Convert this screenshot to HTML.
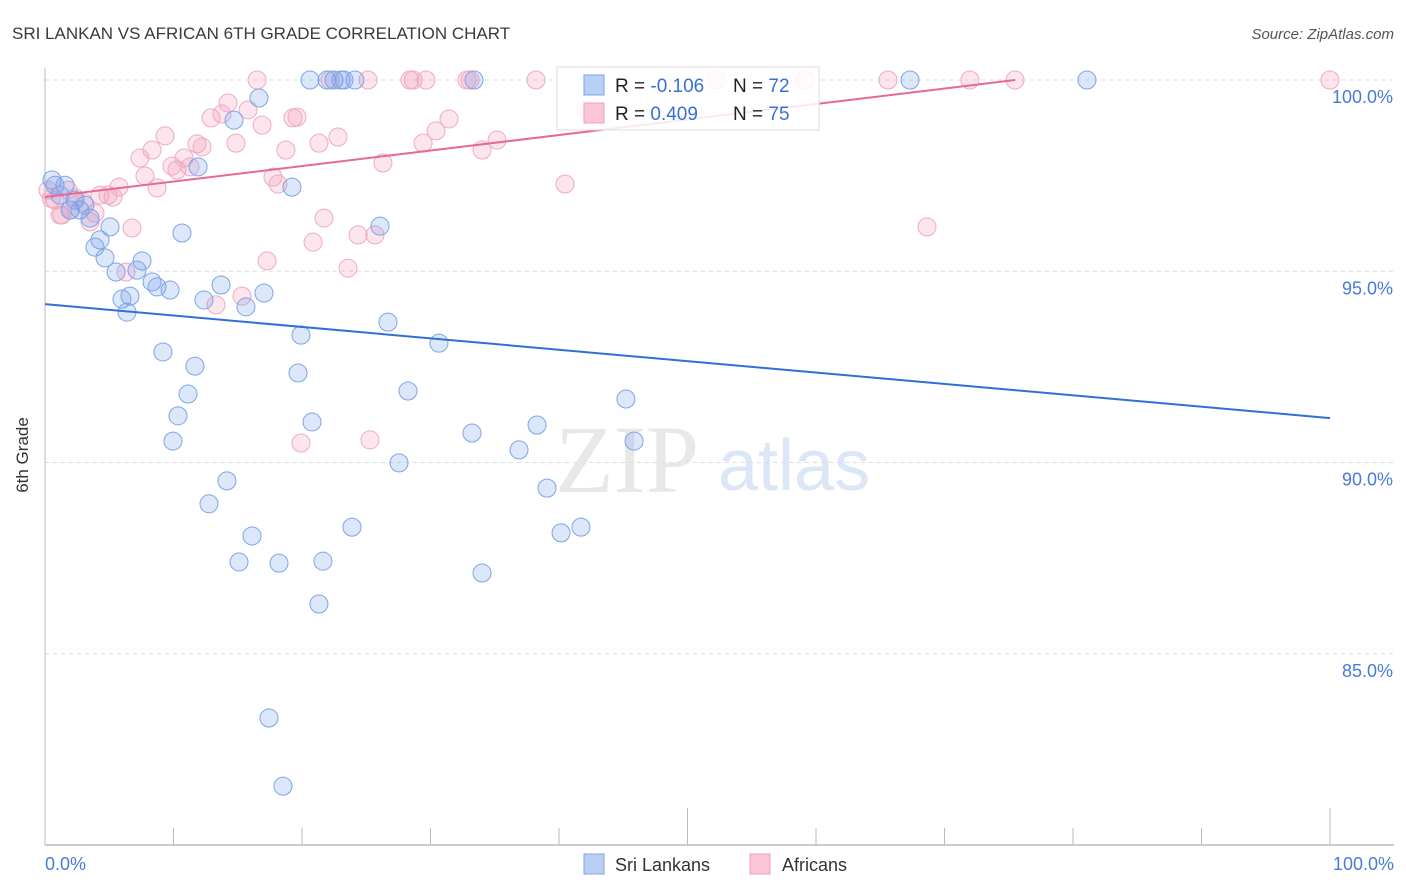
<!DOCTYPE html>
<html><head><meta charset="utf-8"><style>
body{margin:0;background:#fff;width:1406px;height:892px;overflow:hidden;font-family:"Liberation Sans",sans-serif}
svg{position:absolute;left:0;top:0}
</style></head><body>
<svg id="chart" width="1406" height="892">
<text x="12" y="39" font-size="17" fill="#3a3a3a">SRI LANKAN VS AFRICAN 6TH GRADE CORRELATION CHART</text>
<text x="1394" y="39" font-size="15" fill="#555" font-style="italic" text-anchor="end">Source: ZipAtlas.com</text>
<text x="28" y="455" font-size="17" fill="#333" text-anchor="middle" transform="rotate(-90 28 455)">6th Grade</text>
<g>
<text x="555" y="492" font-size="96" font-family="Liberation Serif,serif" fill="#e8e8e8">ZIP</text>
<text x="718" y="490" font-size="72" fill="#dbe6f6">atlas</text>
</g>
<g id="grid"></g>
<g id="axes"></g>
<g id="pts"></g>
<g id="lines"></g>
<g>
<rect x="557" y="67" width="262" height="63" fill="#fff" fill-opacity="0.85" stroke="#ddd"/>
<rect x="584" y="75" width="20" height="20" fill="#b9d0f5" stroke="#7ea3e3"/>
<rect x="584" y="103" width="20" height="20" fill="#fcc5d6" stroke="#eea0ba"/>
<text x="615" y="92" font-size="19" fill="#222">R = <tspan fill="#3a6fd8">-0.106</tspan></text>
<text x="733" y="92" font-size="19" fill="#222">N = <tspan fill="#3a6fd8">72</tspan></text>
<text x="615" y="120" font-size="19" fill="#222">R = <tspan fill="#3a6fd8"> 0.409</tspan></text>
<text x="733" y="120" font-size="19" fill="#222">N = <tspan fill="#3a6fd8">75</tspan></text>
</g>
<g>
<rect x="584" y="854" width="20" height="20" fill="#b9d0f5" stroke="#7ea3e3"/>
<text x="615" y="871" font-size="18" fill="#333">Sri Lankans</text>
<rect x="750" y="854" width="20" height="20" fill="#fcc5d6" stroke="#eea0ba"/>
<text x="782" y="871" font-size="18" fill="#333">Africans</text>
</g>
</svg>
<script>
const yTicks=[100,95,90,85];
const yTickLabels=["100.0%","95.0%","90.0%","85.0%"];
const xTickLabels=["0.0%","100.0%"];
const blueX=[0.54,0.78,1.17,1.56,1.95,2.33,2.72,3.11,3.50,3.89,4.28,4.67,5.06,5.53,5.99,6.38,6.61,7.16,7.55,8.33,8.72,9.18,9.73,9.96,10.35,10.66,11.13,11.67,11.91,12.37,12.76,13.70,14.16,14.71,15.10,15.64,16.11,16.65,17.04,17.43,18.21,18.52,19.22,19.92,19.69,20.62,20.78,21.32,21.63,21.95,22.49,23.04,23.27,23.89,24.12,26.07,26.69,27.55,28.25,30.66,33.23,33.39,34.01,36.89,38.29,39.07,40.16,41.71,45.21,45.84,67.32,81.09];
const blueY=[97.39,97.25,96.99,97.25,96.60,96.86,96.60,96.73,96.39,95.63,95.82,95.35,96.16,94.98,94.27,93.93,94.35,95.03,95.27,94.72,94.59,92.89,94.51,90.56,91.22,96.00,91.79,92.52,97.73,94.25,88.92,94.64,89.52,98.95,87.40,94.07,88.08,99.53,94.43,83.32,87.37,81.54,97.20,93.33,92.34,100,91.06,86.30,87.42,100,100,100,100,88.31,100,96.18,93.67,89.99,91.87,93.12,90.77,100,87.11,90.33,90.98,89.33,88.16,88.31,91.66,90.56,100,100];
const pinkX=[0.23,0.78,1.32,1.79,2.33,3.50,3.89,4.28,4.90,5.29,5.76,6.30,6.77,7.39,7.78,8.33,8.72,9.34,9.88,10.27,10.82,11.28,11.83,12.22,12.92,13.31,13.77,14.24,14.86,15.33,15.80,16.50,16.89,17.28,17.74,18.13,18.75,19.30,19.61,19.92,20.86,21.32,21.71,22.18,22.80,23.58,24.36,25.29,25.68,26.30,28.64,29.42,29.65,30.43,31.44,32.84,34.01,35.18,38.21,40.47,42.02,52.22,59.14,65.60,68.64,71.98,75.49,100,1.17,28.40,33.07,25.14,0.5,2.0,3.0];
const pinkY=[97.12,96.86,96.47,97.12,96.92,96.29,96.52,96.99,96.99,96.94,97.20,94.98,96.13,97.96,97.49,98.17,97.18,98.54,97.75,97.65,97.96,97.73,98.33,98.25,99.01,94.12,99.11,99.40,98.35,94.35,99.22,100,98.82,95.27,97.46,97.28,98.17,99.01,99.03,90.51,95.76,98.35,96.39,100,98.51,95.08,95.95,90.59,95.95,97.83,100,98.35,100,98.67,98.98,100,98.17,98.43,100,97.28,99.22,100,100,100,96.16,100,100,100,96.47,100,100,100,96.9,96.6,96.8];
const blueTrend=[94.14,91.16];
const pinkTrend=[96.94,100];
const pinkTrendEnd=75.5;
const X=v=>45+v*12.85, Y=v=>80+(100-v)*38.25;
const NS="http://www.w3.org/2000/svg";
function mk(tag,parent,attrs){const e=document.createElementNS(NS,tag);for(const k in attrs)e.setAttribute(k,attrs[k]);parent.appendChild(e);return e;}
const grid=document.getElementById('grid'),axes=document.getElementById('axes'),pts=document.getElementById('pts'),lines=document.getElementById('lines');
yTicks.forEach((t,i)=>{
 const l=mk('line',grid,{x1:45,x2:1394,y1:Y(t),y2:Y(t),stroke:'#ddd','stroke-dasharray':'4,4'});
 
 
 const tx=mk('text',grid,{x:1393,y:Y(t)+23,'font-size':18,fill:'#4a7ad8','text-anchor':'end'});
 tx.textContent=yTickLabels[i];
 
 
});
const ya=mk('line',axes,{x1:45,x2:45,y1:68,y2:845,stroke:'#bbb'});


const xa=mk('line',axes,{x1:45,x2:1394,y1:845,y2:845,stroke:'#bbb','stroke-width':1.5});


for(let i=0;i<=10;i++){
 const tk=mk('line',axes,{x1:X(i*10),x2:X(i*10),y1:(i==5||i==10)?808:828,y2:845,stroke:'#bbb'});
 
 
}
[[0,'start',45],[1,'end',1394]].forEach(([i,a,x])=>{
 const t=mk('text',axes,{x:x,y:870,'font-size':18,fill:'#4a7ad8','text-anchor':a});
 t.textContent=xTickLabels[i];
 
 
});
pinkX.forEach((x,i)=>{
 const c=mk('circle',pts,{cx:X(x),cy:Y(pinkY[i]),r:9,fill:'rgba(244,150,182,0.25)',stroke:'#eeabc2','stroke-width':1});
 
 
});
blueX.forEach((x,i)=>{
 const c=mk('circle',pts,{cx:X(x),cy:Y(blueY[i]),r:9,fill:'rgba(120,160,235,0.25)',stroke:'#7da5e6','stroke-width':1});
 
 
});
const bl=mk('line',lines,{x1:X(0),y1:Y(blueTrend[0]),x2:X(100),y2:Y(blueTrend[1]),stroke:'#2f6fd6','stroke-width':2});


const pl=mk('line',lines,{x1:X(0),y1:Y(pinkTrend[0]),x2:X(pinkTrendEnd),y2:Y(pinkTrend[1]),stroke:'#e66a93','stroke-width':2});


</script>
</body></html>
